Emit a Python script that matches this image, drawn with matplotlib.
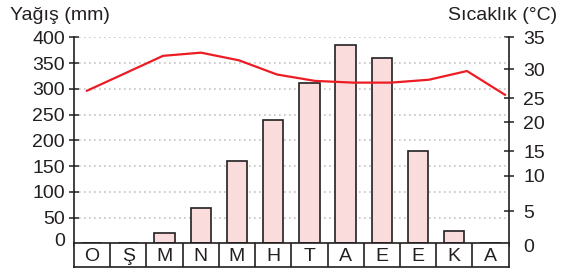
import numpy as np
import matplotlib
matplotlib.use('Agg')
import matplotlib.pyplot as plt
import matplotlib.transforms as mtransforms

plt.rcParams['font.family'] = ['Liberation Sans', 'DejaVu Sans']

months = ['O', 'Ş', 'M', 'N', 'M', 'H', 'T', 'A', 'E', 'E', 'K', 'A']
precip = [0, 0, 20, 69, 160, 239, 311, 386, 359, 179, 24, 0]
temps = [26.3, 29.3, 32.1, 32.6, 31.4, 29.1, 28.0, 27.7, 27.7, 28.2, 29.7, 25.6]

precip_ticks = [0, 50, 100, 150, 200, 250, 300, 350, 400]
# the right scale is not even: where each temperature tick sits on the mm scale
temp_ticks = [0, 5, 10, 15, 20, 25, 30, 35]
temp_tick_mm = [-5, 62.7, 130.7, 179.2, 235, 281.6, 337.9, 400]

dark = '#231f20'
red = '#ed1c24'
pink = '#f9dcdb'

t_ext = [-10] + temp_ticks + [45]
mm_ext = [-140] + temp_tick_mm + [523]


def mm_to_temp(v):
    return np.interp(v, mm_ext, t_ext)


def temp_to_mm(v):
    return np.interp(v, t_ext, mm_ext)


W, H = 564, 270
fig = plt.figure(figsize=(W / 100, H / 100), dpi=100)
x0, x1 = 74, 508.6
ytop, ybase, yrow = 37.3, 243.3, 266.5
ppm = (ybase - ytop) / 400  # pixels per mm
ybot = ybase + 6 * ppm

ax = fig.add_axes([x0 / W, 1 - ybot / H, (x1 - x0) / W, (ybot - ytop) / H])
x = np.arange(len(months))
ax.bar(x, precip, width=0.56, color=pink, edgecolor=dark, linewidth=1.2, zorder=2)
ax.set_xlim(-0.5, 11.5)
ax.set_ylim(-6, 400)
ax.set_xticks([])
ax.set_yticks(precip_ticks)
ax.set_yticklabels([str(v) for v in precip_ticks])
ax.tick_params(axis='y', direction='inout', length=7, width=1.1, color=dark,
               labelcolor=dark, labelsize=14, pad=3)
t0 = ax.yaxis.get_major_ticks()[0]
t0.tick1line.set_visible(False)
t0.gridline.set_visible(False)
t0.label1.set_transform(t0.label1.get_transform() +
                        mtransforms.ScaledTranslation(0, 4 / 100, fig.dpi_scale_trans))
ax.grid(axis='y', linestyle=(0, (1, 2)), color='#c4c4c4', linewidth=1.2)
ax.set_axisbelow(True)
for s in ['top', 'bottom', 'right']:
    ax.spines[s].set_visible(False)
ax.spines['left'].set_color(dark)
ax.spines['left'].set_linewidth(1.2)

# right temperature axis
sec = ax.secondary_yaxis('right', functions=(mm_to_temp, temp_to_mm))
sec.set_yticks(temp_ticks)
sec.tick_params(direction='inout', length=7, width=1.1, color=dark,
                labelcolor=dark, labelsize=14, pad=7)
sec.spines['right'].set_color(dark)
sec.spines['right'].set_linewidth(1.2)
sec.yaxis.get_major_ticks()[0].tick2line.set_visible(False)

# temperature line on its own x spacing
axl = ax.twiny()
axl.plot(np.arange(len(temps)), temp_to_mm(temps), color=red, linewidth=1.6,
         zorder=3, solid_joinstyle='round')
axl.set_xlim(-0.342, 11.095)
axl.set_xticks([])
for s in axl.spines.values():
    s.set_visible(False)

# month row
axm = fig.add_axes([x0 / W, 1 - yrow / H, (x1 - x0) / W, (yrow - ybase) / H])
axm.set_xlim(-0.5, 11.5)
axm.set_ylim(0, 1)
axm.set_xticks([])
axm.set_yticks([])
axm.vlines(np.arange(0.5, 11.5, 1), 0, 1, color=dark, linewidth=1.2)
for i, m in enumerate(months):
    axm.text(i, 0.45, m, ha='center', va='center', fontsize=14, color=dark)
for s in axm.spines.values():
    s.set_color(dark)
    s.set_linewidth(1.2)

fig.text(10 / W, 1 - 16 / H, 'Yağış (mm)', ha='left', va='center', fontsize=14, color=dark)
fig.text(557 / W, 1 - 16 / H, 'Sıcaklık (°C)', ha='right', va='center', fontsize=14, color=dark)

fig.savefig('out.png', dpi=100)
